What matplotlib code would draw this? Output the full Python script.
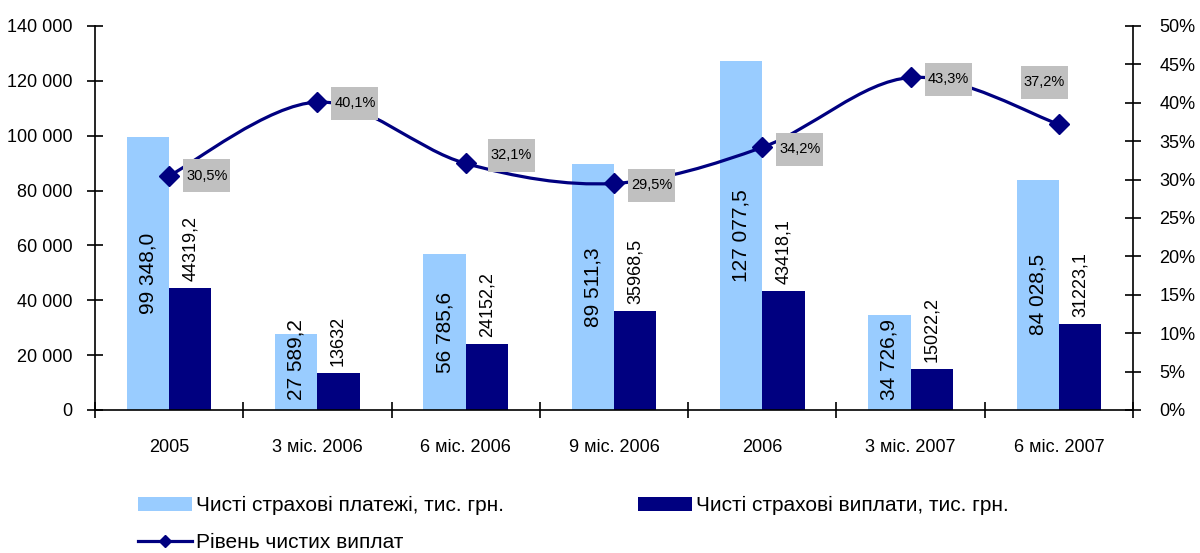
import matplotlib
matplotlib.use("Agg")
import matplotlib.pyplot as plt
from matplotlib.path import Path
from matplotlib.patches import PathPatch, Rectangle, Patch
from matplotlib.lines import Line2D
from matplotlib.ticker import FuncFormatter, FixedLocator
from matplotlib.transforms import ScaledTranslation

plt.rcParams['font.family'] = ['Liberation Sans', 'DejaVu Sans']

# data
categories = ['2005', '3 міс. 2006', '6 міс. 2006', '9 міс. 2006', '2006', '3 міс. 2007', '6 міс. 2007']
payments = [99348.0, 27589.2, 56785.6, 89511.3, 127077.5, 34726.9, 84028.5]
payouts = [44319.2, 13632, 24152.2, 35968.5, 43418.1, 15022.2, 31223.1]
level = [30.5, 40.1, 32.1, 29.5, 34.2, 43.3, 37.2]

lbl_payments = 'Чисті страхові платежі, тис. грн.'
lbl_payouts = 'Чисті страхові виплати, тис. грн.'
lbl_level = 'Рівень чистих виплат'

# label box offsets from the point, px (box left, box centre y)
box_off = [(14, 0), (14, -1), (22, 8), (14, -2), (14, -2), (14, -2), (-38, 42)]

light = '#99CCFF'
dark = '#000080'

fig = plt.figure(figsize=(12, 5.53), dpi=100)
ax = fig.add_axes([0.0792, 0.2586, 0.8650, 0.6944])
ax2 = ax.twinx()

x = list(range(len(categories)))
w = 0.285
ax.bar([i - w / 2 for i in x], payments, w, color=light, zorder=2)
ax.bar([i + w / 2 for i in x], payouts, w, color=dark, zorder=2)

# value labels on bars
for i, v in enumerate(payments):
    txt = f"{v:,.1f}".replace(',', ' ').replace('.', ',')
    ax.text(i - w / 2, max(v / 2, 18500), txt, rotation=90, ha='center', va='center',
            fontsize=15, zorder=5)
for i, v in enumerate(payouts):
    txt = f"{v:g}".replace('.', ',')
    ax.annotate(txt, (i + w / 2, v), xytext=(0, 5), textcoords='offset points',
                rotation=90, ha='center', va='bottom', fontsize=13, zorder=5)

ax.set_xlim(-0.5, len(categories) - 0.5)
ax.set_ylim(0, 140000)
ax.set_yticks(range(0, 140001, 20000))
ax.yaxis.set_major_formatter(FuncFormatter(lambda v, p: f"{int(v):,}".replace(',', ' ')))
ax.xaxis.set_major_locator(FixedLocator([i - 0.5 for i in range(len(categories) + 1)]))
ax.xaxis.set_major_formatter(FuncFormatter(lambda v, p: ''))
ax.xaxis.set_minor_locator(FixedLocator(x))
ax.set_xticklabels(categories, minor=True)
ax.tick_params(axis='x', which='major', direction='inout', length=12, width=1.2)
ax.tick_params(axis='x', which='minor', length=0, pad=21, labelsize=13)
ax.tick_params(axis='y', direction='inout', length=12, width=1.2, pad=10, labelsize=13)

# smooth line for level (catmull-rom style bezier)
pts = list(zip(x, level))
verts = [pts[0]]
codes = [Path.MOVETO]
n = len(pts)
for i in range(n - 1):
    p0 = pts[i - 1] if i > 0 else pts[i]
    p1 = pts[i]
    p2 = pts[i + 1]
    p3 = pts[i + 2] if i + 2 < n else pts[i + 1]
    c1 = (p1[0] + (p2[0] - p0[0]) / 6, p1[1] + (p2[1] - p0[1]) / 6)
    c2 = (p2[0] - (p3[0] - p1[0]) / 6, p2[1] - (p3[1] - p1[1]) / 6)
    verts += [c1, c2, p2]
    codes += [Path.CURVE4] * 3
ax2.add_patch(PathPatch(Path(verts, codes), fill=False, edgecolor=dark, lw=2.3, zorder=2))
ax2.plot(x, level, linestyle='none', marker='D', ms=10, color=dark, zorder=4)

for i, v in enumerate(level):
    dx, dy = box_off[i]
    tr = fig.dpi_scale_trans + ScaledTranslation(i, v, ax2.transData)
    ax2.add_patch(Rectangle((dx / 100, (dy - 16.5) / 100), 0.47, 0.33, transform=tr,
                            facecolor='#C0C0C0', edgecolor='none', zorder=3, clip_on=False))
    ax2.text((dx + 23.5) / 100, dy / 100, f"{v:.1f}%".replace('.', ','), transform=tr,
             ha='center', va='center', fontsize=10.5, zorder=5)

ax2.set_ylim(0, 50)
ax2.set_yticks(range(0, 51, 5))
ax2.yaxis.set_major_formatter(FuncFormatter(lambda v, p: f"{int(v)}%"))
ax2.tick_params(axis='y', direction='inout', length=12, width=1.2, pad=13, labelsize=13)

for a in (ax, ax2):
    a.spines['top'].set_visible(False)
    for s in ('left', 'right', 'bottom'):
        a.spines[s].set_linewidth(1.2)
ax.spines['right'].set_visible(False)
ax2.spines['left'].set_visible(False)
ax2.spines['bottom'].set_visible(False)

handles = [Patch(facecolor=light), Line2D([], [], color=dark, lw=2.3, marker='D', ms=6),
           Patch(facecolor=dark)]
labels = [lbl_payments, lbl_level, lbl_payouts]
fig.legend(handles, labels, ncol=2, loc='upper left', bbox_to_anchor=(0.115, 0.103),
           frameon=False, fontsize=15, handlelength=2.6, handleheight=0.7,
           handletextpad=0.2, columnspacing=6.4, labelspacing=0.85,
           borderaxespad=0, borderpad=0)

fig.savefig('out.png', dpi=100)
